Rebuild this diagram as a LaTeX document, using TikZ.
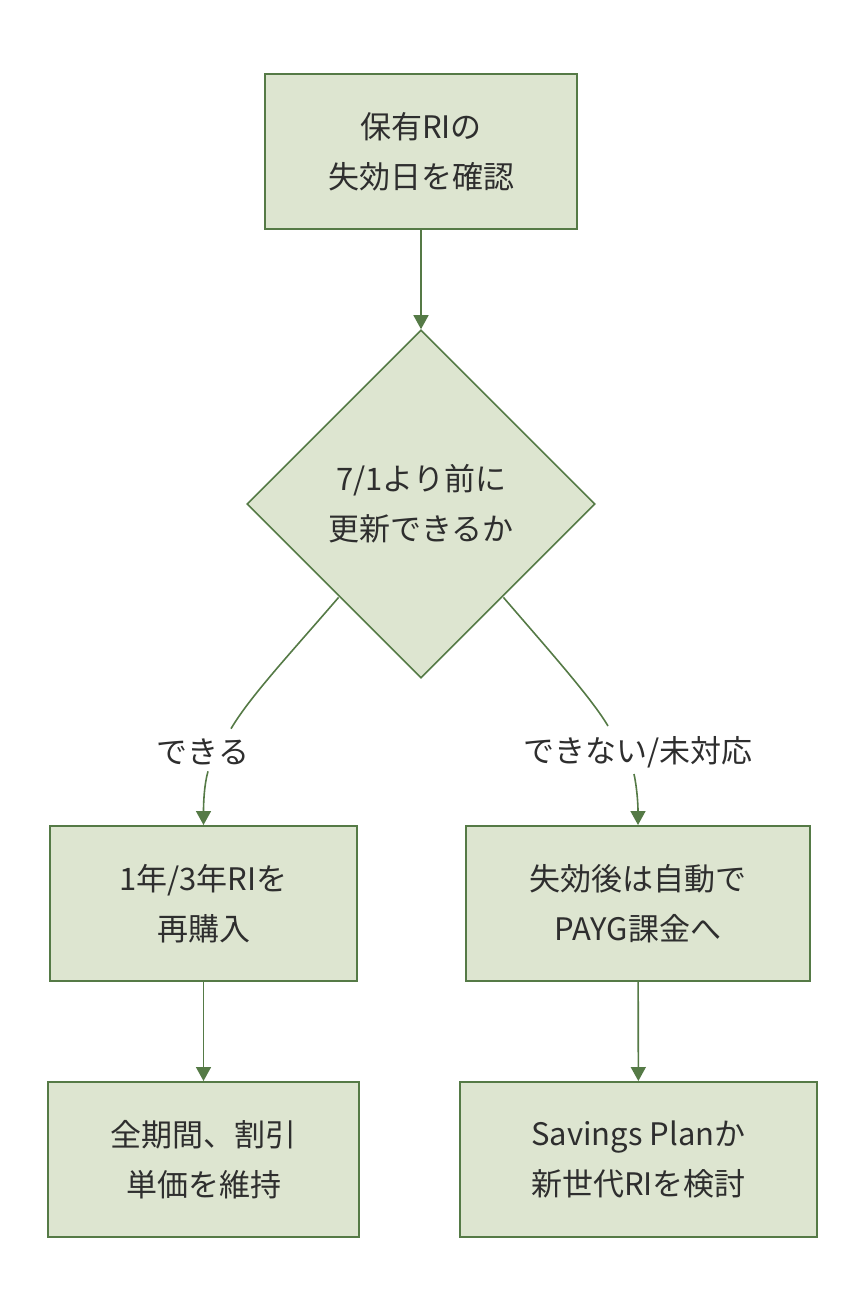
\documentclass[tikz,border=0pt]{standalone}
\usepackage{fontspec}
\setmainfont{Noto Sans CJK JP}
\usetikzlibrary{shapes.geometric,arrows.meta}
\definecolor{nodefill}{HTML}{DDE5D0}
\definecolor{nodeline}{HTML}{557A46}
\definecolor{txt}{HTML}{2E2E2E}
\tikzset{
  box/.style={draw=nodeline, fill=nodefill, line width=2pt, rectangle, inner sep=0pt, align=center, text=txt, font=\fontsize{31}{50}\selectfont},
  decision/.style={draw=nodeline, fill=nodefill, line width=1.6pt, diamond, inner sep=0pt, minimum width=348pt, minimum height=348pt, align=center, text=txt, font=\fontsize{31}{50}\selectfont},
  lbl/.style={text=txt, font=\fontsize{31}{40}\selectfont, inner sep=6pt},
  edge/.style={draw=nodeline, line width=1.6pt},
  arr/.style={edge, -{Triangle[width=15pt,length=14pt]}}
}
\begin{document}
\begin{tikzpicture}[x=1pt,y=-1pt]
\useasboundingbox (0,0) rectangle (864,1316);
\node[box, minimum width=312pt, minimum height=155pt] (check) at (421,151.5) {保有RIの\\失効日を確認};
\node[decision] (dia) at (421,504) {7/1より前に\\更新できるか};
\node[box, minimum width=307pt, minimum height=155pt] (rebuy) at (203.5,903.5) {1年/3年RIを\\再購入};
\node[box, minimum width=344pt, minimum height=155pt] (payg) at (638,903.5) {失効後は自動で\\PAYG課金へ};
\node[box, minimum width=311pt, minimum height=155pt] (keep) at (203.5,1159.5) {全期間、割引\\単価を維持};
\node[box, minimum width=357pt, minimum height=155pt] (sp) at (638.5,1159.5) {Savings Planか\\新世代RIを検討};
\node[lbl] (yes) at (203,752) {できる};
\node[lbl] (no) at (638,752) {できない/未対応};

\draw[arr] (check) -- (dia);
\draw[edge] ([shift={(5,6)}]dia.south west) .. controls +(-50,58) and +(19,-32) .. ([shift={(28,-4)}]yes.north);
\draw[arr] ([xshift=5pt]yes.south) .. controls +(-4,14) and +(0,-21) .. (rebuy.north);
\draw[edge] ([shift={(-5,6)}]dia.south east) .. controls +(50,58) and +(-16,-27) .. ([shift={(-30,-4)}]no.north);
\draw[arr] ([xshift=-4pt]no.south) .. controls +(3,14) and +(0,-21) .. (payg.north);
\draw[arr] (rebuy) -- (keep);
\draw[arr] (payg) -- (sp);
\end{tikzpicture}
\end{document}
